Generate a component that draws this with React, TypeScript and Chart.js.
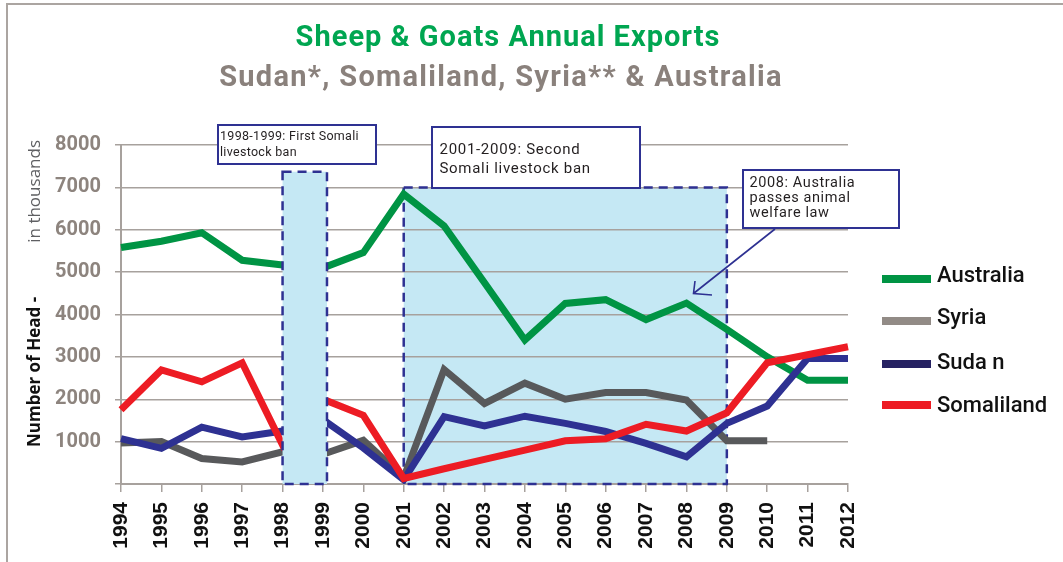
import React, { useEffect, useRef } from "react";
import { Chart, registerables } from "chart.js";

Chart.register(...registerables);

const years = ["1994", "1995", "1996", "1997", "1998", "1999", "2000", "2001", "2002", "2003", "2004", "2005", "2006", "2007", "2008", "2009", "2010", "2011", "2012"];
const australia = [5580, 5730, 5930, 5280, 5170, 5100, 5460, 6840, 6090, 4750, 3400, 4260, 4350, 3880, 4270, 3650, 3000, 2450, 2450];
const syria = [970, 1000, 600, 520, 760, 700, 1030, 150, 2700, 1900, 2380, 2000, 2160, 2160, 1980, 1020, 1020, null, null];
const sudan = [1070, 840, 1340, 1110, 1250, 1520, 850, 100, 1590, 1370, 1600, 1430, 1240, 960, 640, 1430, 1840, 2960, 2960];
const somaliland = [1750, 2690, 2410, 2860, 920, 2000, 1620, 130, 360, 580, 800, 1020, 1070, 1410, 1250, 1680, 2860, 3050, 3240];

const yMin = 0;
const yMax = 8000;
const yStep = 1000;

const titleText = "Sheep & Goats Annual Exports";
const subtitleText = "Sudan*, Somaliland, Syria** & Australia";
const yTitleBold = "Number of Head -";
const yTitleLight = "in thousands";
const legendNames = ["Australia", "Syria", "Suda n", "Somaliland"];
const banOneText = ["1998-1999: First Somali", "livestock ban"];
const banTwoText = ["2001-2009: Second", "Somali livestock ban"];
const welfareText = ["2008: Australia", "passes animal", "welfare law"];
// ban periods as category-index ranges and value tops
const banOneRange = [4, 5.1, 7370];
const banTwoRange = [7, 15, 7000];

const GREEN = "#009444";
const GRAY_LINE = "#58595B";
const GRAY_LEGEND = "#928B86";
const NAVY = "#2E3192";
const NAVY_LEGEND = "#262262";
const RED = "#ED1C24";
const BOX_FILL = "#C5E8F4";
const GRID = "#A7A19D";

export default function App() {
  const ref = useRef<HTMLCanvasElement | null>(null);

  useEffect(() => {
    const canvas = ref.current;
    if (!canvas) return;

    const drawBan = (chart: any, range: number[], fill: boolean, border: boolean) => {
      const ctx = chart.ctx;
      const xs = chart.scales.x;
      const ys = chart.scales.y;
      const x0 = xs.getPixelForValue(range[0]);
      const x1 = xs.getPixelForValue(range[1]);
      const y0 = ys.getPixelForValue(range[2]);
      const y1 = ys.getPixelForValue(0);
      ctx.save();
      if (fill) {
        ctx.fillStyle = BOX_FILL;
        ctx.fillRect(x0, y0, x1 - x0, y1 - y0);
      }
      if (border) {
        ctx.strokeStyle = NAVY;
        ctx.lineWidth = 2.5;
        ctx.setLineDash([9, 6]);
        ctx.strokeRect(x0, y0, x1 - x0, y1 - y0);
      }
      ctx.restore();
    };

    const textBox = (ctx: CanvasRenderingContext2D, x: number, y: number, w: number, h: number, lines: string[], font: string, tx: number, baselines: number[], spacing: string) => {
      ctx.save();
      ctx.fillStyle = "#ffffff";
      ctx.fillRect(x, y, w, h);
      ctx.strokeStyle = NAVY;
      ctx.lineWidth = 2;
      ctx.setLineDash([]);
      ctx.strokeRect(x, y, w, h);
      ctx.fillStyle = "#231F20";
      ctx.font = font;
      (ctx as any).letterSpacing = spacing;
      ctx.textAlign = "left";
      ctx.textBaseline = "alphabetic";
      lines.forEach((l, i) => ctx.fillText(l, tx, baselines[i]));
      ctx.restore();
    };

    const decor = {
      id: "decor",
      beforeDraw(chart: any) {
        const ctx = chart.ctx;
        ctx.save();
        ctx.fillStyle = "#ffffff";
        ctx.fillRect(0, 0, chart.width, chart.height);
        // outer frame
        ctx.strokeStyle = "#ABA5A1";
        ctx.lineWidth = 2;
        ctx.beginPath();
        ctx.moveTo(7, chart.height);
        ctx.lineTo(7, 4);
        ctx.lineTo(chart.width, 4);
        ctx.stroke();
        // titles
        ctx.textAlign = "center";
        ctx.textBaseline = "alphabetic";
        ctx.font = "bold 29px Roboto";
        (ctx as any).letterSpacing = "1px";
        ctx.fillStyle = "#00A651";
        ctx.fillText(titleText, 508, 46);
        (ctx as any).letterSpacing = "1.3px";
        ctx.fillStyle = "#8A817C";
        ctx.fillText(subtitleText, 501, 86);
        ctx.restore();
        drawBan(chart, banTwoRange, true, false);
      },
      beforeDatasetsDraw(chart: any) {
        drawBan(chart, banTwoRange, false, true);
      },
      afterDatasetsDraw(chart: any) {
        drawBan(chart, banOneRange, true, true);
        const ctx = chart.ctx;
        textBox(ctx, 218, 125, 158, 39, banOneText, "12.5px Roboto", 220, [139.5, 155.5], "0.3px");
        textBox(ctx, 432, 127, 208, 61, banTwoText, "15px Roboto", 439.5, [153.5, 172.5], "0.7px");
        textBox(ctx, 743, 170, 156, 58, welfareText, "14.5px Roboto", 749.5, [186.5, 201.5, 216.5], "0.6px");
        // arrow
        ctx.save();
        ctx.strokeStyle = NAVY;
        ctx.lineWidth = 1.6;
        ctx.beginPath();
        ctx.moveTo(775, 229);
        ctx.lineTo(693.5, 293.5);
        ctx.moveTo(695, 281);
        ctx.lineTo(693.5, 293.5);
        ctx.lineTo(712, 295);
        ctx.stroke();
        ctx.restore();
      },
      afterDraw(chart: any) {
        const ctx = chart.ctx;
        ctx.save();
        // y axis title
        ctx.translate(40, 447);
        ctx.rotate(-Math.PI / 2);
        ctx.textBaseline = "alphabetic";
        ctx.textAlign = "left";
        ctx.font = "bold 17px 'Open Sans'";
        ctx.fillStyle = "#111111";
        ctx.fillText(yTitleBold, 0, 0);
        ctx.textAlign = "right";
        ctx.font = "17px 'Open Sans'";
        ctx.fillStyle = "#5E5F62";
        ctx.fillText(yTitleLight, 447 - 140, 0);
        ctx.restore();
        // legend
        const colors = [GREEN, GRAY_LEGEND, NAVY_LEGEND, RED];
        const lineYs = [279, 321, 364, 405];
        const baseYs = [282, 324, 369, 412];
        ctx.save();
        ctx.font = "500 22px Roboto";
        ctx.textAlign = "left";
        ctx.textBaseline = "alphabetic";
        legendNames.forEach((n, i) => {
          ctx.fillStyle = colors[i];
          ctx.fillRect(882, lineYs[i] - 4, 49, 8);
          ctx.fillStyle = "#111111";
          ctx.fillText(n, 937, baseYs[i]);
        });
        ctx.restore();
      },
    };

    const lineStyle = {
      borderWidth: 7,
      pointRadius: 0,
      pointHoverRadius: 0,
      tension: 0,
      spanGaps: false,
      borderJoinStyle: "miter" as const,
      borderCapStyle: "butt" as const,
      fill: false,
    };

    const chart = new Chart(canvas, {
      type: "line",
      data: {
        labels: years,
        datasets: [
          { label: "Somaliland", data: somaliland, borderColor: RED, backgroundColor: RED, ...lineStyle },
          { label: "Sudan", data: sudan, borderColor: NAVY, backgroundColor: NAVY, ...lineStyle },
          { label: "Australia", data: australia, borderColor: GREEN, backgroundColor: GREEN, ...lineStyle },
          { label: "Syria", data: syria, borderColor: GRAY_LINE, backgroundColor: GRAY_LINE, ...lineStyle },
        ],
      },
      options: {
        animation: false,
        responsive: false,
        maintainAspectRatio: false,
        devicePixelRatio: 1,
        layout: { padding: { left: 0, right: 215, top: 145, bottom: 0 } },
        plugins: {
          legend: { display: false },
          title: { display: false },
          tooltip: { enabled: false },
        },
        scales: {
          x: {
            type: "category",
            offset: false,
            afterFit: (s: any) => { s.height = 78; },
            grid: { drawOnChartArea: false, drawTicks: true, tickLength: 8, color: GRID, lineWidth: 1.5 },
            border: { display: true, color: GRID, width: 2 },
            ticks: {
              autoSkip: false,
              minRotation: 90,
              maxRotation: 90,
              padding: 10,
              color: "#111111",
              font: { family: "'Liberation Sans', Arial", size: 21, weight: "bold" },
            },
          },
          y: {
            min: yMin,
            max: yMax,
            afterFit: (s: any) => { s.width = 121; },
            grid: { color: GRID, lineWidth: 1.5, tickLength: 6, drawTicks: true },
            border: { display: true, color: GRID, width: 2 },
            ticks: {
              stepSize: yStep,
              padding: 14,
              color: "#8D847E",
              font: { family: "Roboto", size: 20, weight: "bold" },
              callback: (v: any) => (Number(v) === 0 ? "" : String(v)),
            },
          },
        },
      },
      plugins: [decor],
    });

    return () => chart.destroy();
  }, []);

  return (
    <div style={{ position: "absolute", left: 0, top: 0, width: 1063, height: 562 }}>
      <canvas ref={ref} width={1063} height={562} style={{ width: 1063, height: 562, display: "block" }} />
    </div>
  );
}
